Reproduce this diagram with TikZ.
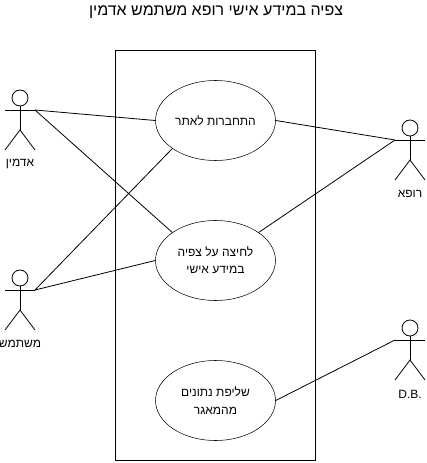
\documentclass[tikz,border=0pt]{standalone}
\usepackage{fontspec}
\setmainfont[Script=Hebrew]{Liberation Sans}
\TeXXeTstate=1
\usetikzlibrary{shapes.geometric}
\newcommand{\rtl}[1]{\beginR #1\endR}
\tikzset{
  usecase/.style={draw, ellipse, inner sep=0pt, minimum width=90pt, minimum height=60pt, align=center, font=\fontsize{9}{13}\selectfont},
  link/.style={draw, line width=0.6pt},
  actor/.pic={
    \draw[link] (0,0) circle (8);
    \draw[link] (0,8) -- (0,32);
    \coordinate (-armleft) at (-15,12);
    \coordinate (-armright) at (15,12);
    \draw[link] (-armleft) -- (-armright);
    \draw[link] (-15,52) -- (0,32) -- (15,52);
    \node[font=\fontsize{9}{11}\selectfont] (-label) at (0,66) {#1};
  }
}

\begin{document}
\begin{tikzpicture}[x=0.75pt, y=-0.75pt]
  \useasboundingbox (0,0) rectangle (427,463);

  \node[font=\fontsize{12}{14}\selectfont] (title) at (216,12) {\rtl{צפיה במידע אישי רופא משתמש אדמין}};
  \node[draw, line width=0.6pt, minimum width=150pt, minimum height=307.5pt, inner sep=0pt] (system) at (215.5,255.25) {};

  \node[usecase] (login) at (215.5,120.5) {\rtl{התחברות לאתר}};
  \node[usecase] (click) at (215.5,260.5) {\rtl{לחיצה על צפיה}\\\rtl{במידע אישי}};
  \node[usecase] (fetch) at (215.5,400.5) {\rtl{שליפת נתונים}\\\rtl{מהמאגר}};

  \pic (admin) at (20,98) {actor={\rtl{אדמין}}};
  \pic (user) at (20,278) {actor={\rtl{משתמש}}};
  \pic (doctor) at (410,128) {actor={\rtl{רופא}}};
  \pic (db) at (410,328) {actor={D.B.}};

  % connectors
  \draw[link] (admin-armright) -- (login.west);
  \draw[link] (admin-armright) -- (click.147);
  \draw[link] (user-armright) -- (login.213);
  \draw[link] (user-armright) -- (click.west);
  \draw[link] (doctor-armleft) -- (login.east);
  \draw[link] (doctor-armleft) -- (click.33);
  \draw[link] (db-armleft) -- (fetch.east);
\end{tikzpicture}
\end{document}
